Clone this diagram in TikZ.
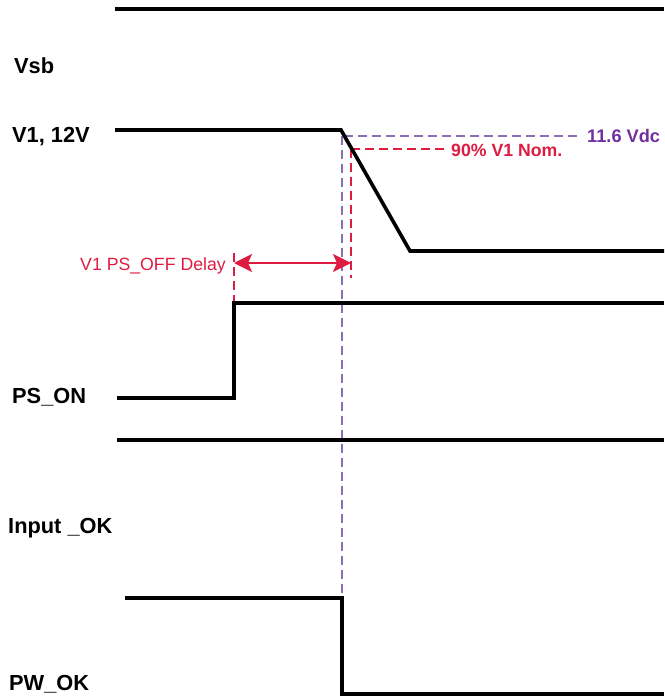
\documentclass[tikz,border=0pt]{standalone}
\usepackage{fontspec}
\setmainfont{Liberation Sans}
\usetikzlibrary{arrows.meta}
\definecolor{vred}{RGB}{222,28,66}
\definecolor{vpurple}{RGB}{112,48,160}
\definecolor{lpurple}{RGB}{140,110,180}
\tikzset{
  wave/.style={line width=3.6pt, line join=miter, black},
  siglabel/.style={anchor=base west, inner sep=0pt, font=\bfseries\fontsize{21.8}{23}\selectfont},
  redlabel/.style={inner sep=0pt, text=vred, font=\fontsize{17.7}{20}\selectfont},
  redbold/.style={inner sep=0pt, text=vred, font=\bfseries\fontsize{17.7}{20}\selectfont},
  purplelabel/.style={inner sep=0pt, text=vpurple, font=\bfseries\fontsize{18.2}{20}\selectfont},
  pdash/.style={lpurple, line width=1.3pt, dash pattern=on 9pt off 5pt},
  rdash/.style={vred, line width=1.3pt, dash pattern=on 9pt off 5pt},
  dimarrow/.style={vred, line width=2pt, {Stealth[length=18pt,width=18pt,inset=4pt]}-{Stealth[length=18pt,width=18pt,inset=4pt]}}
}
\begin{document}
\begin{tikzpicture}[x=1pt,y=-1pt]
\useasboundingbox (0,0) rectangle (664,700);
% labels
\node[siglabel] (lvsb) at (14,74) {Vsb};
\node[siglabel] (lv1) at (12,143) {V1, 12V};
\node[siglabel] (lpson) at (12,403) {PS\_ON};
\node[siglabel] (linok) at (8,533) {Input \_OK};
\node[siglabel] (lpwok) at (9,690) {PW\_OK};
% waveform coordinates
\coordinate (vsbA) at (115,9);
\coordinate (vsbB) at (664,9);
\coordinate (v1A) at (115,130);
\coordinate (v1B) at (341,130);
\coordinate (v1C) at (410,251);
\coordinate (v1D) at (664,251);
\coordinate (psA) at (117,398);
\coordinate (psB) at (234,398);
\coordinate (psC) at (234,303);
\coordinate (psD) at (664,303);
\coordinate (inA) at (117,440);
\coordinate (inB) at (664,440);
\coordinate (pwA) at (125,598);
\coordinate (pwB) at (342,598);
\coordinate (pwC) at (342,694);
\coordinate (pwD) at (664,694);
% dashed references
\coordinate (p1) at (344,136);
\coordinate (p2) at (580,136);
\coordinate (p3) at (342,136);
\coordinate (r1) at (351,149);
\coordinate (r2) at (447,149);
\coordinate (r3) at (351,278);
\coordinate (r4) at (234,253);
\node[purplelabel, anchor=base west] (l116) at (587,143) {11.6 Vdc};
\node[redbold, anchor=base west] (l90) at (451,157) {90\% V1 Nom.};
\node[redlabel, anchor=base east] (ldel) at (226,270) {V1 PS\_OFF Delay};
\coordinate (a1) at (234,263);
\coordinate (a2) at (351,263);
\draw[pdash] (p1) -- (p2);
\draw[pdash] (p3) -- (pwB);
\draw[rdash] (r1) -- (r2);
\draw[rdash] (r1) -- (r3);
\draw[rdash] (r4) -- (psC);
\draw[dimarrow] (a1) -- (a2);
% waveforms
\draw[wave] (vsbA) -- (vsbB);
\draw[wave] (v1A) -- (v1B) -- (v1C) -- (v1D);
\draw[wave] (psA) -- (psB) -- (psC) -- (psD);
\draw[wave] (inA) -- (inB);
\draw[wave] (pwA) -- (pwB) -- (pwC) -- (pwD);
\end{tikzpicture}
\end{document}
